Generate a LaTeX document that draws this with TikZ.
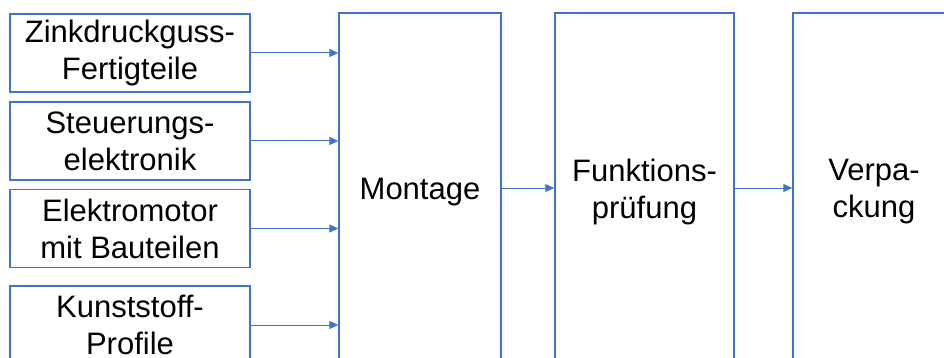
\documentclass[tikz,border=0pt]{standalone}
\usepackage{fontspec}
\setmainfont{Liberation Sans}
\usetikzlibrary{arrows.meta,positioning}
\definecolor{boxblue}{HTML}{4472C4}
\begin{document}
\begin{tikzpicture}[x=1pt,y=-1pt,
  box/.style={draw=boxblue,line width=1.5pt,align=center,inner sep=0pt,
    font=\fontsize{31}{37}\selectfont},
  part/.style={box,minimum width=240pt,minimum height=78pt},
  stage/.style={box,minimum width=162pt,minimum height=358pt},
  flow/.style={draw=boxblue,line width=1pt,-{Triangle[length=9pt,width=8pt]}}]
\useasboundingbox (0,0) rectangle (944,358);
\clip (0,0) rectangle (944,358);
\node[part] (zink) at (130,53) {Zinkdruckguss-\\Fertigteile};
\node[part] (steuer) at (130,141) {Steuerungs-\\elektronik};
\node[part] (motor) at (130,228.5) {Elektromotor\\mit Bauteilen};
\node[part] (kunst) at (130,325) {Kunststoff-\\Profile};
\node[stage] (montage) at (420,192) {Montage};
\node[stage,minimum width=179pt] (pruef) at (644.5,192) {Funktions-\\prüfung};
\node[stage] (pack) at (874,192) {Verpa-\\ckung};
\draw[flow] (zink) -- (zink -| montage.west);
\draw[flow] (steuer) -- (steuer -| montage.west);
\draw[flow] (motor) -- (motor -| montage.west);
\draw[flow] (kunst) -- (kunst -| montage.west);
\draw[flow] ([yshift=4pt]montage.east) -- ([yshift=4pt]pruef.west);
\draw[flow] ([yshift=4pt]pruef.east) -- ([yshift=4pt]pack.west);
\end{tikzpicture}
\end{document}
